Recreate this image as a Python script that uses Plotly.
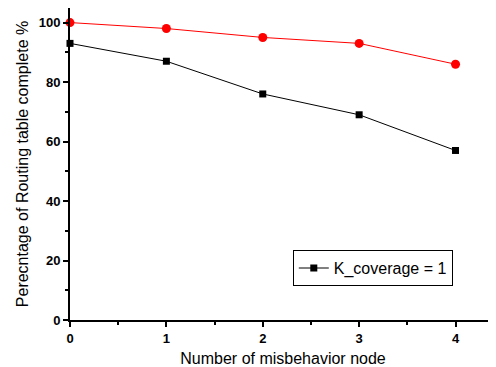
import plotly.graph_objects as go

x_nodes = [0, 1, 2, 3, 4]
red_vals = [100, 98, 95, 93, 86]
black_vals = [93, 87, 76, 69, 57]
legend_name = "K_coverage = 1"

fig = go.Figure()
fig.add_trace(go.Scatter(x=x_nodes, y=red_vals, mode="lines+markers",
                         line=dict(color="#ff0000", width=1),
                         marker=dict(symbol="circle", size=9, color="#ff0000"),
                         showlegend=False, cliponaxis=False))
fig.add_trace(go.Scatter(x=x_nodes, y=black_vals, mode="lines+markers",
                         line=dict(color="black", width=1),
                         marker=dict(symbol="square", size=7, color="black"),
                         name=legend_name, showlegend=True, cliponaxis=False))

font_family = "Liberation Sans, Arial, sans-serif"
fig.update_layout(
    width=488, height=359,
    margin=dict(l=62, r=0, t=0, b=47),
    paper_bgcolor="white", plot_bgcolor="white",
    font=dict(family=font_family, color="black"),
    showlegend=True,
    legend=dict(x=0.523, y=0.224, xanchor="left", yanchor="top",
                bgcolor="white", bordercolor="black", borderwidth=1,
                font=dict(size=16, family=font_family),
                itemwidth=30, tracegroupgap=0),
    xaxis=dict(range=[0, 4.42], showline=True, linecolor="black", linewidth=2,
               showgrid=False, zeroline=False, automargin=False,
               tickmode="array", tickvals=x_nodes, ticks="outside", ticklen=5,
               tickwidth=1.5, tickcolor="black",
               tickfont=dict(size=13, weight="bold"),
               minor=dict(dtick=0.5, tick0=0, ticks="outside", ticklen=3, tickcolor="black", tickwidth=1.5),
               title=dict(text="Number of misbehavior node", font=dict(size=16), standoff=10)),
    yaxis=dict(range=[0, 104.9], showline=True, linecolor="black", linewidth=2,
               showgrid=False, zeroline=False, automargin=False,
               tickmode="linear", tick0=0, dtick=20, ticks="outside", ticklen=5,
               tickwidth=1.5, tickcolor="black",
               tickfont=dict(size=13, weight="bold"),
               minor=dict(dtick=10, tick0=0, ticks="outside", ticklen=3, tickcolor="black", tickwidth=1.5),
               title=dict(text="Perecntage of Routing table complete %", font=dict(size=16), standoff=6)),
)

fig.write_html("out.html")
